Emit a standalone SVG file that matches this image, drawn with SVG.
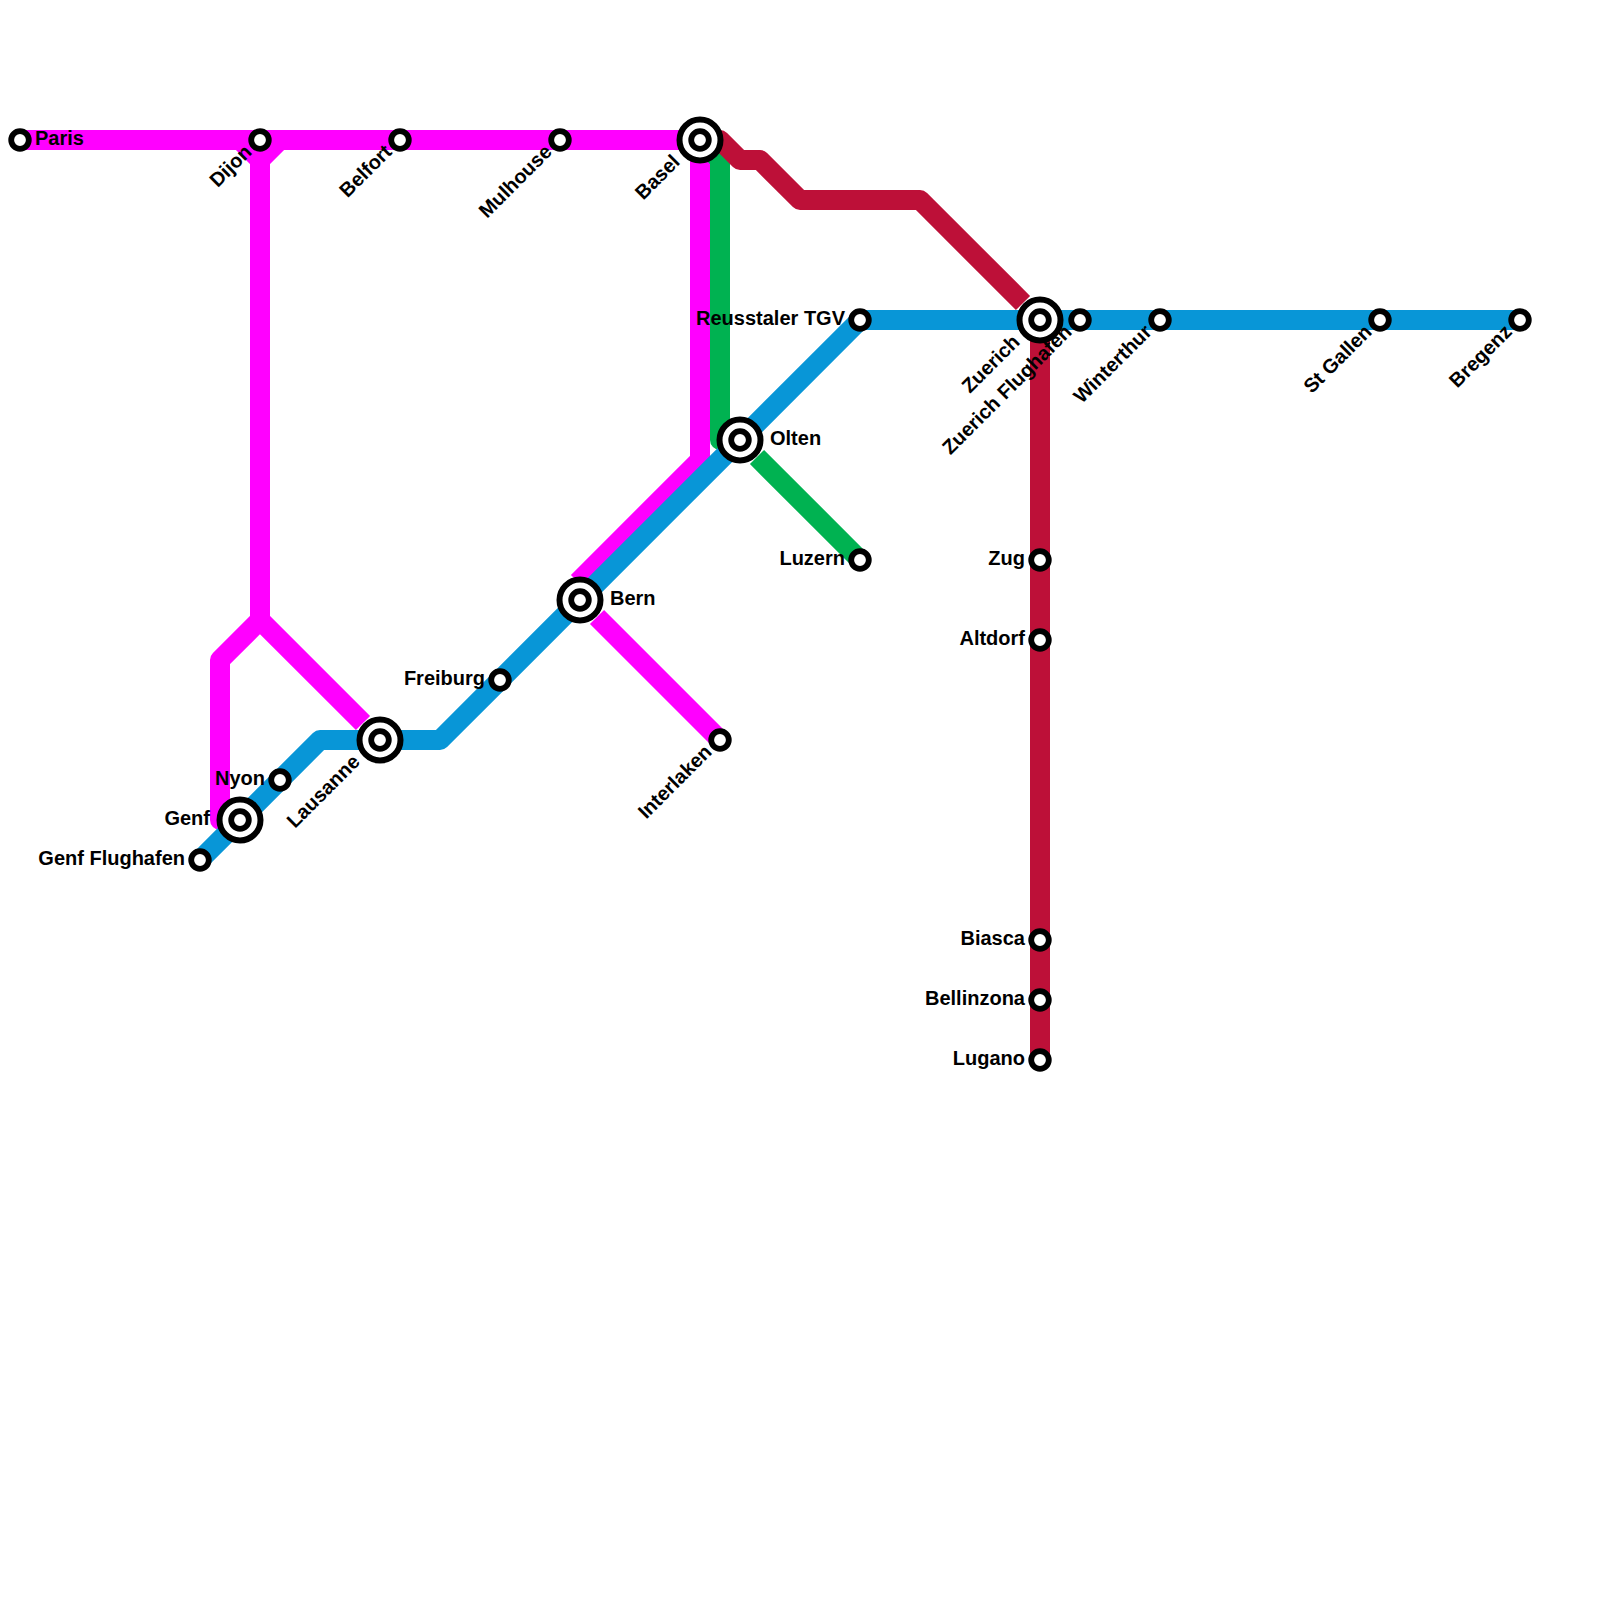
<svg xmlns="http://www.w3.org/2000/svg" width="1600" height="1600" viewBox="0 0 1600 1600">
<style>
.l{fill:none;stroke-width:20;stroke-linejoin:round;stroke-linecap:butt}
.s{fill:#fff;stroke:#000;stroke-width:5.8}
.b{fill:#fff;stroke:#000;stroke-width:6}
text{font-family:"Liberation Sans",Arial,sans-serif;font-weight:700;font-size:20px;fill:#000}
.e{text-anchor:end}
</style>
<defs>
<g id="sm"><circle class="s" r="8.8"/></g>
<g id="ic"><circle class="b" r="20.5"/><circle class="s" r="8.8"/></g>
</defs>
<rect width="1600" height="1600" fill="#fff"/>
<g id="connectors">
<path class="l" stroke="#ff00ff" d="M20 140H700V460L578 582"/>
<path class="l" stroke="#ff00ff" d="M240 140L260 160V620L363 723"/>
<path class="l" stroke="#ff00ff" d="M280 140L260 160V620L220 660V820H240"/>
<path class="l" stroke="#ff00ff" d="M597 617L720 740"/>
<path class="l" stroke="#00b251" d="M700 140L720 160V440H740M757 457L860 560"/>
<path class="l" stroke="#bd1038" d="M700 140H720L740 160H760L800 200H920L1023 303M1040 320V1060"/>
<path class="l" stroke="#0896d7" d="M200 860L320 740H440L860 320H1520"/>
</g>
<g id="paris"><use href="#sm" x="20" y="140"/><text x="35" y="145">Paris</text></g>
<g id="dijon"><use href="#sm" x="260" y="140"/><text class="e" transform="translate(253 153) rotate(-45)">Dijon</text></g>
<g id="belfort"><use href="#sm" x="400" y="140"/><text class="e" transform="translate(393 153) rotate(-45)">Belfort</text></g>
<g id="mulhouse"><use href="#sm" x="560" y="140"/><text class="e" transform="translate(553 153) rotate(-45)">Mulhouse</text></g>
<g id="basel"><use href="#ic" x="700" y="140"/><text class="e" transform="translate(681 163) rotate(-45)">Basel</text></g>
<g id="reusstaler"><use href="#sm" x="860" y="320"/><text class="e" x="845" y="325">Reusstaler TGV</text></g>
<g id="zuerich"><use href="#ic" x="1040" y="320"/><text class="e" transform="translate(1021 343) rotate(-45)">Zuerich</text></g>
<g id="zuerich-flughafen"><use href="#sm" x="1080" y="320"/><text class="e" transform="translate(1073 333) rotate(-45)">Zuerich Flughafen</text></g>
<g id="winterthur"><use href="#sm" x="1160" y="320"/><text class="e" transform="translate(1153 333) rotate(-45)">Winterthur</text></g>
<g id="st-gallen"><use href="#sm" x="1380" y="320"/><text class="e" transform="translate(1373 333) rotate(-45)">St Gallen</text></g>
<g id="bregenz"><use href="#sm" x="1520" y="320"/><text class="e" transform="translate(1513 333) rotate(-45)">Bregenz</text></g>
<g id="olten"><use href="#ic" x="740" y="440"/><text x="770" y="445">Olten</text></g>
<g id="luzern"><use href="#sm" x="860" y="560"/><text class="e" x="845" y="565">Luzern</text></g>
<g id="bern"><use href="#ic" x="580" y="600"/><text x="610" y="605">Bern</text></g>
<g id="freiburg"><use href="#sm" x="500" y="680"/><text class="e" x="485" y="685">Freiburg</text></g>
<g id="interlaken"><use href="#sm" x="720" y="740"/><text class="e" transform="translate(713 753) rotate(-45)">Interlaken</text></g>
<g id="lausanne"><use href="#ic" x="380" y="740"/><text class="e" transform="translate(361 763) rotate(-45)">Lausanne</text></g>
<g id="nyon"><use href="#sm" x="280" y="780"/><text class="e" x="265" y="785">Nyon</text></g>
<g id="genf"><use href="#ic" x="240" y="820"/><text class="e" x="210" y="825">Genf</text></g>
<g id="genf-flughafen"><use href="#sm" x="200" y="860"/><text class="e" x="185" y="865">Genf Flughafen</text></g>
<g id="zug"><use href="#sm" x="1040" y="560"/><text class="e" x="1025" y="565">Zug</text></g>
<g id="altdorf"><use href="#sm" x="1040" y="640"/><text class="e" x="1025" y="645">Altdorf</text></g>
<g id="biasca"><use href="#sm" x="1040" y="940"/><text class="e" x="1025" y="945">Biasca</text></g>
<g id="bellinzona"><use href="#sm" x="1040" y="1000"/><text class="e" x="1025" y="1005">Bellinzona</text></g>
<g id="lugano"><use href="#sm" x="1040" y="1060"/><text class="e" x="1025" y="1065">Lugano</text></g>
</svg>
